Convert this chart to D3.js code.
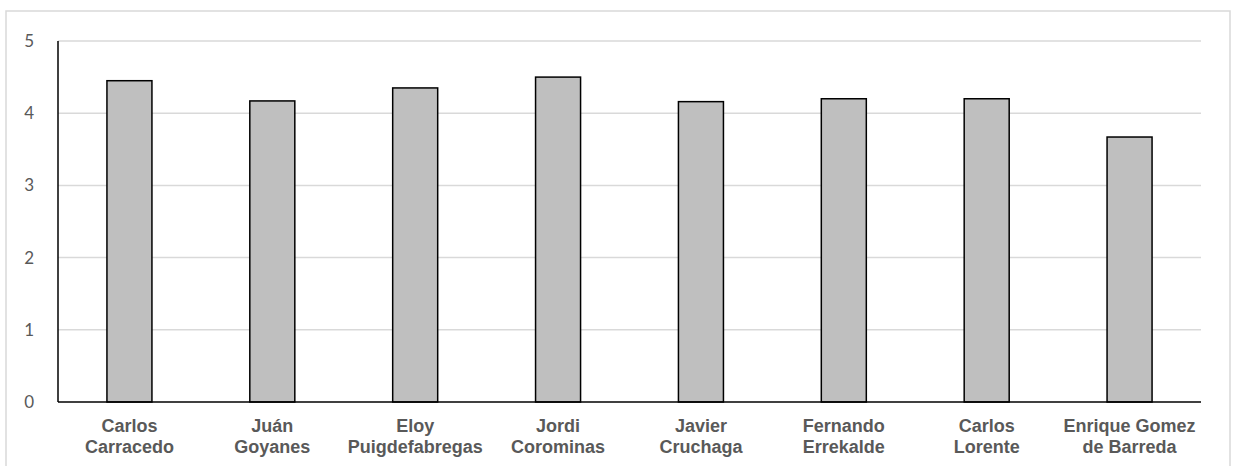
<!DOCTYPE html>
<html>
<head>
<meta charset="utf-8">
<script src="https://cdn.jsdelivr.net/npm/d3@7"></script>
<style>
  html, body { margin: 0; padding: 0; background: #fff; }
  svg { display: block; }
</style>
</head>
<body>
<svg id="chart" width="1235" height="466"></svg>
<script>
const categories = [
  ["Carlos", "Carracedo"],
  ["Juán", "Goyanes"],
  ["Eloy", "Puigdefabregas"],
  ["Jordi", "Corominas"],
  ["Javier", "Cruchaga"],
  ["Fernando", "Errekalde"],
  ["Carlos", "Lorente"],
  ["Enrique Gomez", "de Barreda"]
];
const values = [4.45, 4.17, 4.35, 4.5, 4.16, 4.2, 4.2, 3.67];
const yTicks = [0, 1, 2, 3, 4, 5];

const svg = d3.select("#chart");
const W = 1235, H = 466;
const margin = { left: 58, right: 34, top: 41, bottom: 64 };

// outer chart border (bottom edge is off-canvas)
svg.append("rect")
  .attr("x", 6).attr("y", 11)
  .attr("width", 1224).attr("height", 470)
  .attr("fill", "none").attr("stroke", "#d9d9d9").attr("stroke-width", 1.5);

const x = d3.scaleBand()
  .domain(categories.map((d, i) => i))
  .range([margin.left, W - margin.right])
  .paddingInner(0.685).paddingOuter(0.3425);

const y = d3.scaleLinear().domain([0, 5]).range([H - margin.bottom, margin.top]);

// gridlines
svg.append("g")
  .selectAll("line")
  .data(yTicks.filter(t => t > 0))
  .join("line")
  .attr("x1", margin.left).attr("x2", W - margin.right)
  .attr("y1", d => y(d)).attr("y2", d => y(d))
  .attr("stroke", "#d9d9d9").attr("stroke-width", 1.5);

// y axis labels
const yAxis = d3.axisLeft(y).tickValues(yTicks).tickSize(0).tickPadding(24).tickFormat(d3.format("d"));
const gy = svg.append("g").attr("transform", `translate(${margin.left},0)`).call(yAxis);
gy.select(".domain").remove();
gy.selectAll("text")
  .attr("fill", "#595959")
  .style("font-family", "Lato, 'Open Sans', sans-serif")
  .style("font-size", "17px");

// bars
svg.append("g")
  .selectAll("rect")
  .data(values)
  .join("rect")
  .attr("x", (d, i) => x(i))
  .attr("y", d => y(d))
  .attr("width", x.bandwidth())
  .attr("height", d => y(0) - y(d))
  .attr("fill", "#bfbfbf")
  .attr("stroke", "#000")
  .attr("stroke-width", 1.5);

// axis lines
svg.append("line")
  .attr("x1", margin.left).attr("x2", margin.left)
  .attr("y1", y(5)).attr("y2", y(0))
  .attr("stroke", "#000").attr("stroke-width", 1.5);
svg.append("line")
  .attr("x1", margin.left).attr("x2", W - margin.right)
  .attr("y1", y(0)).attr("y2", y(0))
  .attr("stroke", "#000").attr("stroke-width", 1.5);

// x labels
const xl = svg.append("g")
  .selectAll("text")
  .data(categories)
  .join("text")
  .attr("x", (d, i) => x(i) + x.bandwidth() / 2)
  .attr("y", y(0) + 30)
  .attr("text-anchor", "middle")
  .attr("fill", "#595959")
  .style("font-family", "'Liberation Sans', Arial, sans-serif")
  .style("font-weight", "bold")
  .style("font-size", "18px");
xl.selectAll("tspan")
  .data(d => d)
  .join("tspan")
  .attr("x", function() { return d3.select(this.parentNode).attr("x"); })
  .attr("dy", (d, i) => i === 0 ? 0 : 20.5)
  .text(d => d);
</script>
</body>
</html>
